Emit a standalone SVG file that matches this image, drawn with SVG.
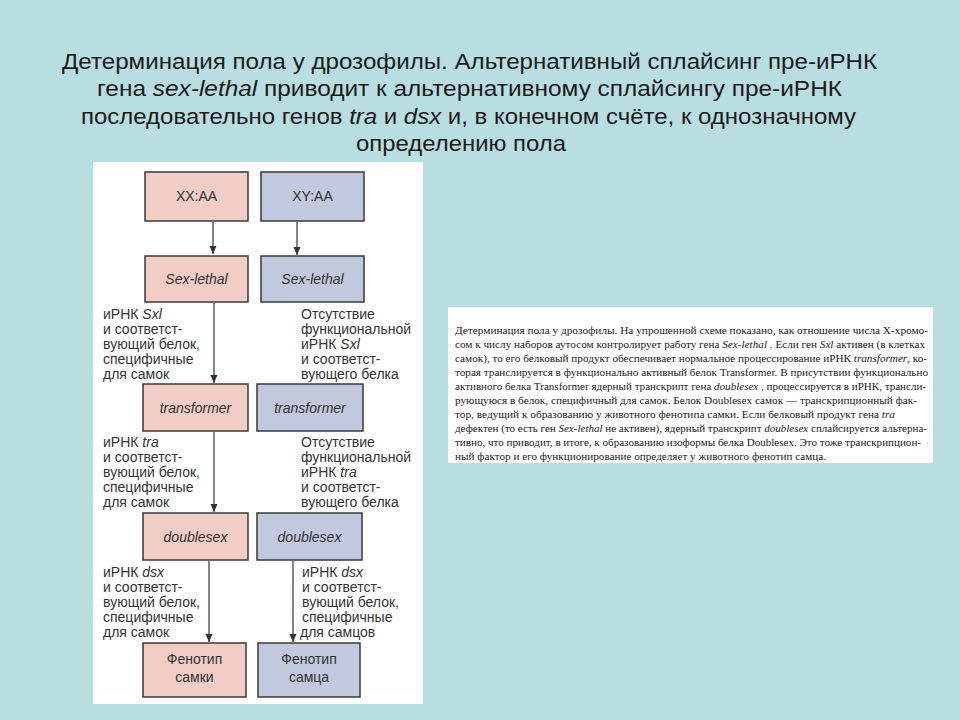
<svg xmlns="http://www.w3.org/2000/svg" width="960" height="720" viewBox="0 0 960 720">
<defs>
<style>
.title{font-family:"Liberation Sans",Arial,sans-serif;font-size:22px;fill:#1a1a1a}
.box{stroke:#3a3a3a;stroke-width:1.5}
.f{fill:#f2cdc5}
.m{fill:#c2c8dd}
.bl{font-family:"Liberation Sans",Arial,sans-serif;font-size:14px;fill:#333;text-anchor:middle}
.lb{font-family:"Liberation Sans",Arial,sans-serif;font-size:14px;fill:#333}
.it{font-style:italic}
.note{font-family:"Liberation Serif","Times New Roman",serif;font-size:11px;fill:#222}
.arr{stroke:#333;stroke-width:1.2;fill:none;marker-end:url(#ah)}
</style>
<marker id="ah" viewBox="0 0 8 10" refX="8" refY="5" markerWidth="8" markerHeight="10" markerUnits="userSpaceOnUse" orient="auto">
<path d="M0,1.5 L8,5 L0,8.5 Z" fill="#333"/>
</marker>
</defs>
<rect width="960" height="720" fill="#b8dee1"/>
<g id="title">
<text class="title" x="62" y="69" textLength="815" lengthAdjust="spacingAndGlyphs">Детерминация пола у дрозофилы. Альтернативный сплайсинг пре-иРНК</text>
<text class="title" x="97" y="96" textLength="745" lengthAdjust="spacingAndGlyphs">гена <tspan class="it">sex-lethal</tspan> приводит к альтернативному сплайсингу пре-иРНК</text>
<text class="title" x="81" y="124" textLength="775" lengthAdjust="spacingAndGlyphs">последовательно генов <tspan class="it">tra</tspan> и <tspan class="it">dsx</tspan> и, в конечном счёте, к однозначному</text>
<text class="title" x="356" y="151" textLength="210" lengthAdjust="spacingAndGlyphs">определению пола</text>
</g>
<rect id="panel" x="93" y="162" width="330" height="542" fill="#ffffff"/>
<g id="connectors">
<line class="arr" x1="213" y1="222" x2="213" y2="254"/>
<line class="arr" x1="297" y1="222" x2="297" y2="255"/>
<line class="arr" x1="214" y1="303" x2="214" y2="383"/>
<line class="arr" x1="214" y1="432" x2="214" y2="512"/>
<line class="arr" x1="209" y1="561" x2="209" y2="642"/>
<line class="arr" x1="293" y1="561" x2="293" y2="642"/>
</g>
<g id="xx">
<rect class="box f" x="145" y="172" width="103" height="49"/>
<text class="bl" x="196.5" y="201">XX:AA</text>
</g>
<g id="xy">
<rect class="box m" x="261" y="172" width="103" height="49"/>
<text class="bl" x="312.5" y="201">XY:AA</text>
</g>
<g id="sxl-f">
<rect class="box f" x="145" y="256" width="103" height="46"/>
<text class="bl it" x="196.5" y="284">Sex-lethal</text>
</g>
<g id="sxl-m">
<rect class="box m" x="261" y="256" width="103" height="46"/>
<text class="bl it" x="312.5" y="284">Sex-lethal</text>
</g>
<g id="lbl-sxl-f">
<text class="lb" x="103" y="319">иРНК <tspan class="it">Sxl</tspan></text>
<text class="lb" x="103" y="334">и соответст-</text>
<text class="lb" x="103" y="349">вующий белок,</text>
<text class="lb" x="103" y="364">специфичные</text>
<text class="lb" x="103" y="379">для самок</text>
</g>
<g id="lbl-sxl-m">
<text class="lb" x="301" y="319">Отсутствие</text>
<text class="lb" x="301" y="334">функциональной</text>
<text class="lb" x="301" y="349">иРНК <tspan class="it">Sxl</tspan></text>
<text class="lb" x="301" y="364">и соответст-</text>
<text class="lb" x="301" y="379">вующего белка</text>
</g>
<g id="tra-f">
<rect class="box f" x="143" y="384" width="105" height="47"/>
<text class="bl it" x="195.5" y="413">transformer</text>
</g>
<g id="tra-m">
<rect class="box m" x="257" y="384" width="106" height="47"/>
<text class="bl it" x="310" y="413">transformer</text>
</g>
<g id="lbl-tra-f">
<text class="lb" x="103" y="447">иРНК <tspan class="it">tra</tspan></text>
<text class="lb" x="103" y="462">и соответст-</text>
<text class="lb" x="103" y="477">вующий белок,</text>
<text class="lb" x="103" y="492">специфичные</text>
<text class="lb" x="103" y="507">для самок</text>
</g>
<g id="lbl-tra-m">
<text class="lb" x="301" y="447">Отсутствие</text>
<text class="lb" x="301" y="462">функциональной</text>
<text class="lb" x="301" y="477">иРНК <tspan class="it">tra</tspan></text>
<text class="lb" x="301" y="492">и соответст-</text>
<text class="lb" x="301" y="507">вующего белка</text>
</g>
<g id="dsx-f">
<rect class="box f" x="143" y="513" width="105" height="47"/>
<text class="bl it" x="195.5" y="542">doublesex</text>
</g>
<g id="dsx-m">
<rect class="box m" x="257" y="513" width="105" height="47"/>
<text class="bl it" x="309.5" y="542">doublesex</text>
</g>
<g id="lbl-dsx-f">
<text class="lb" x="103" y="577">иРНК <tspan class="it">dsx</tspan></text>
<text class="lb" x="103" y="592">и соответст-</text>
<text class="lb" x="103" y="607">вующий белок,</text>
<text class="lb" x="103" y="622">специфичные</text>
<text class="lb" x="103" y="637">для самок</text>
</g>
<g id="lbl-dsx-m">
<text class="lb" x="302" y="577">иРНК <tspan class="it">dsx</tspan></text>
<text class="lb" x="302" y="592">и соответст-</text>
<text class="lb" x="302" y="607">вующий белок,</text>
<text class="lb" x="302" y="622">специфичные</text>
<text class="lb" x="300" y="637">для самцов</text>
</g>
<g id="pheno-f">
<rect class="box f" x="143" y="643" width="103" height="54"/>
<text class="bl" x="194.5" y="664">Фенотип</text>
<text class="bl" x="194.5" y="682">самки</text>
</g>
<g id="pheno-m">
<rect class="box m" x="258" y="643" width="102" height="54"/>
<text class="bl" x="309" y="664">Фенотип</text>
<text class="bl" x="309" y="682">самца</text>
</g>
<g id="note">
<rect x="448" y="307" width="485" height="156" fill="#ffffff"/>
<text class="note" x="455" y="334" textLength="473" lengthAdjust="spacingAndGlyphs">Детерминация пола у дрозофилы. На упрошенной схеме показано, как отношение числа Х-хромо-</text>
<text class="note" x="455" y="348" textLength="470" lengthAdjust="spacingAndGlyphs">сом к числу наборов аутосом контролирует работу гена <tspan class="it">Sex-lethal</tspan> . Если ген <tspan class="it">Sxl</tspan> активен (в клетках</text>
<text class="note" x="455" y="362" textLength="472" lengthAdjust="spacingAndGlyphs">самок), то его белковый продукт обеспечивает нормальное процессирование иРНК <tspan class="it">transformer</tspan>, ко-</text>
<text class="note" x="455" y="376" textLength="473" lengthAdjust="spacingAndGlyphs">торая транслируется в функционально активный белок Transformer. В присутствии функционально</text>
<text class="note" x="455" y="390" textLength="471" lengthAdjust="spacingAndGlyphs">активного белка Transformer ядерный транскрипт гена <tspan class="it">doublesex</tspan> , процессируется в иРНК, трансли-</text>
<text class="note" x="455" y="404" textLength="462" lengthAdjust="spacingAndGlyphs">рующуюся в белок, специфичный для самок. Белок Doublesex самок — транскрипционный фак-</text>
<text class="note" x="455" y="418" textLength="440" lengthAdjust="spacingAndGlyphs">тор, ведущий к образованию у животного фенотипа самки. Если белковый продукт гена <tspan class="it">tra</tspan></text>
<text class="note" x="455" y="432" textLength="472" lengthAdjust="spacingAndGlyphs">дефектен (то есть ген <tspan class="it">Sex-lethal</tspan> не активен), ядерный транскрипт <tspan class="it">doublesex</tspan> сплайсируется альтерна-</text>
<text class="note" x="455" y="446" textLength="466" lengthAdjust="spacingAndGlyphs">тивно, что приводит, в итоге, к образованию изоформы белка Doublesex. Это тоже транскрипцион-</text>
<text class="note" x="455" y="460" textLength="371" lengthAdjust="spacingAndGlyphs">ный фактор и его функционирование определяет у животного фенотип самца.</text>
</g>
</svg>
